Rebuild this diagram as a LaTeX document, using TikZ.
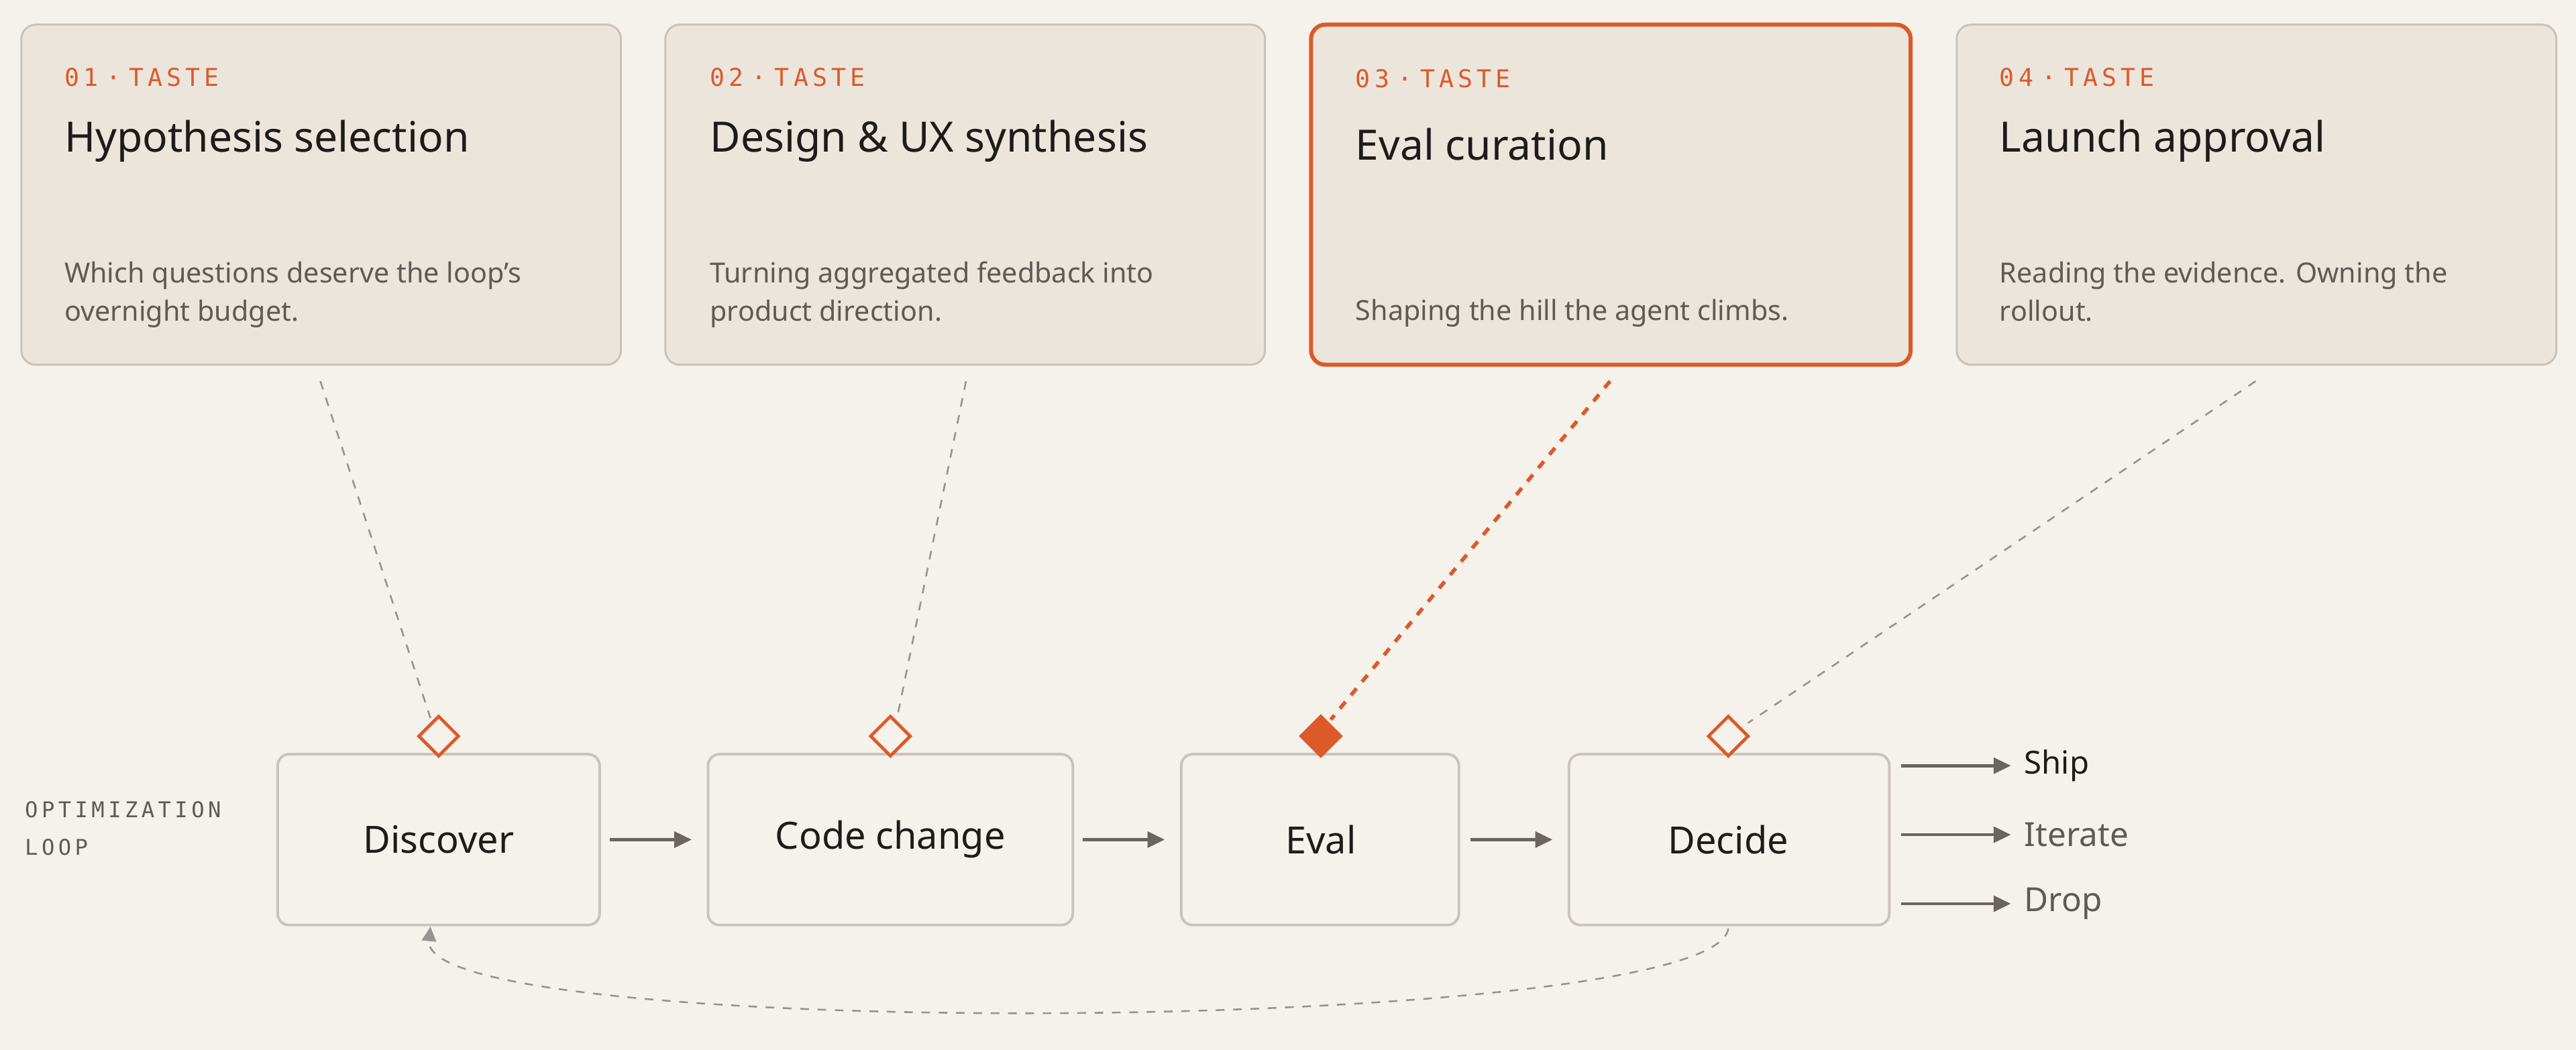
\documentclass[tikz,border=0pt]{standalone}
\usepackage{fontspec}
\setmainfont{Noto Sans}
\newfontfamily\monof{DejaVu Sans Mono}
\usetikzlibrary{arrows.meta}
\definecolor{bgc}{HTML}{F5F1EB}
\definecolor{cardc}{HTML}{ECE5DC}
\definecolor{bordc}{HTML}{C9C3BA}
\definecolor{orng}{HTML}{DC5A2A}
\definecolor{ink}{HTML}{1E1C1A}
\definecolor{greyt}{HTML}{5F5A55}
\definecolor{arr}{HTML}{6A6560}
\begin{document}
\begin{tikzpicture}[x=0.02cm,y=-0.02cm,
 card/.style={draw=bordc,fill=cardc,line width=0.7pt,rounded corners=5pt},
 lbox/.style={draw=bordc,fill=bgc,line width=0.9pt,rounded corners=4pt},
 tag/.style={anchor=west,text=orng,font=\monof\fontsize{8.5}{10}\selectfont},
 ttl/.style={anchor=west,text=ink,font=\bfseries\fontsize{14.5}{17}\selectfont},
 dsc/.style={anchor=north west,text=greyt,font=\fontsize{9.6}{13.2}\selectfont,align=left},
 blab/.style={text=ink,font=\bfseries\fontsize{13}{15}\selectfont},
 flow/.style={-{Triangle[length=6pt,width=5.5pt]},draw=arr,line width=1.1pt},
 dia/.style={draw=orng,line width=1.1pt,fill=bgc},
 guide/.style={draw=arr!70,dashed,line width=0.6pt}]
\fill[bgc] (0,0) rectangle (1568,639);
\useasboundingbox (0,0) rectangle (1568,639);
% cards
\draw[card] (13,15) rectangle (378,222);
\draw[card] (405,15) rectangle (770,222);
\draw[card,draw=orng,line width=1.4pt] (798,15) rectangle (1163,222);
\draw[card] (1191,15) rectangle (1556,222);
\node[tag] (t1) at (33,47) {0\,1\,\,·\,\,T\,A\,S\,T\,E};
\node[tag] (t2) at (426,47) {0\,2\,\,·\,\,T\,A\,S\,T\,E};
\node[tag] (t3) at (819,48) {0\,3\,\,·\,\,T\,A\,S\,T\,E};
\node[tag] (t4) at (1211,47) {0\,4\,\,·\,\,T\,A\,S\,T\,E};
\node[ttl] (h1) at (33,86) {Hypothesis selection};
\node[ttl] (h2) at (426,86) {Design \& UX synthesis};
\node[ttl] (h3) at (819,88) {Eval curation};
\node[ttl] (h4) at (1211,86) {Launch approval};
\node[dsc] (d1) at (33,153) {Which questions deserve the loop's\\overnight budget.};
\node[dsc] (d2) at (426,153) {Turning aggregated feedback into\\product direction.};
\node[dsc] (d3) at (819,176) {Shaping the hill the agent climbs.};
\node[dsc] (d4) at (1211,153) {Reading the evidence. Owning the\\rollout.};
% loop
\node[anchor=west,text=greyt,font=\monof\fontsize{7.5}{13}\selectfont,align=left] (ol) at (9,504) {O\,P\,T\,I\,M\,I\,Z\,A\,T\,I\,O\,N\\L\,O\,O\,P};
\draw[lbox] (169,459) rectangle (365,563); \node[blab] (b1) at (267,511) {Discover};
\draw[lbox] (431,459) rectangle (653,563); \node[blab] (b2) at (542,511) {Code change};
\draw[lbox] (719,459) rectangle (888,563); \node[blab] (b3) at (804,511) {Eval};
\draw[lbox] (955,459) rectangle (1150,563); \node[blab] (b4) at (1052,511) {Decide};
\coordinate (a1s) at (371,511); \coordinate (a1e) at (421,511);
\coordinate (a2s) at (659,511); \coordinate (a2e) at (709,511);
\coordinate (a3s) at (895,511); \coordinate (a3e) at (945,511);
\draw[flow] (a1s) -- (a1e); \draw[flow] (a2s) -- (a2e); \draw[flow] (a3s) -- (a3e);
% outcomes
\coordinate (o1) at (1157,466); \coordinate (o1e) at (1224,466);
\coordinate (o2) at (1157,508); \coordinate (o2e) at (1224,508);
\coordinate (o3) at (1157,550); \coordinate (o3e) at (1224,550);
\draw[flow] (o1) -- (o1e); \draw[flow] (o2) -- (o2e); \draw[flow] (o3) -- (o3e);
\node[anchor=west,text=ink,font=\bfseries\fontsize{11}{13}\selectfont] (ship) at (1226,466) {Ship};
\node[anchor=west,text=greyt,font=\fontsize{11.5}{13}\selectfont] (iter) at (1226,508) {Iterate};
\node[anchor=west,text=greyt,font=\fontsize{11.5}{13}\selectfont] (drop) at (1226,550) {Drop};
% guides
\coordinate (g1a) at (195,232); \coordinate (g1b) at (262,437);
\coordinate (g2a) at (588,232); \coordinate (g2b) at (546,437);
\coordinate (g3a) at (980,232); \coordinate (g3b) at (810,438);
\coordinate (g4a) at (1373,232); \coordinate (g4b) at (1064,440);
\draw[guide] (g1a) -- (g1b);
\draw[guide] (g2a) -- (g2b);
\draw[guide] (g4a) -- (g4b);
\draw[orng,dashed,line width=1.3pt] (g3a) -- (g3b);
% diamonds
\draw[dia] (267,436) -- (279,448) -- (267,460) -- (255,448) -- cycle;
\draw[dia] (542,436) -- (554,448) -- (542,460) -- (530,448) -- cycle;
\draw[dia,fill=orng] (804,436) -- (816,448) -- (804,460) -- (792,448) -- cycle;
\draw[dia] (1052,436) -- (1064,448) -- (1052,460) -- (1040,448) -- cycle;
% return
\coordinate (r1) at (1052,565); \coordinate (r2) at (262,564);
\draw[guide,-{Triangle[length=5pt,width=5pt]}] (r1) .. controls (1045,630) and (255,635) .. (r2);
\end{tikzpicture}
\end{document}
